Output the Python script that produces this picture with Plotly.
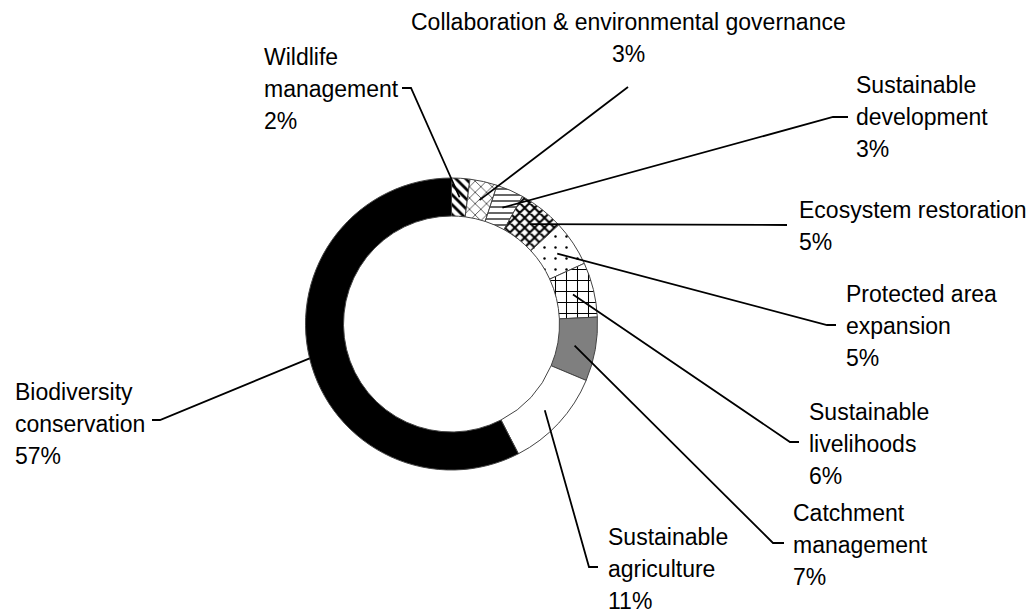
import math
import plotly.graph_objects as go

categories = ["Wildlife management", "Collaboration & environmental governance",
              "Sustainable development", "Ecosystem restoration",
              "Protected area expansion", "Sustainable livelihoods",
              "Catchment management", "Sustainable agriculture",
              "Biodiversity conservation"]
values = [2, 3, 3, 5, 5, 6, 7, 11, 57]
label_lines = [["Wildlife", "management", "2%"],
               ["Collaboration & environmental governance", "3%"],
               ["Sustainable", "development", "3%"],
               ["Ecosystem restoration", "5%"],
               ["Protected area", "expansion", "5%"],
               ["Sustainable", "livelihoods", "6%"],
               ["Catchment", "management", "7%"],
               ["Sustainable", "agriculture", "11%"],
               ["Biodiversity", "conservation", "57%"]]

W, H = 1032, 615
CX, CY, R_OUT, R_IN = 451.5, 324.0, 146.0, 108.0

fill_colors = ["white", "white", "white", "white", "white", "white", "#7f7f7f", "white", "black"]
pat_shapes = ["\\", "x", "-", "x", ".", "+", "", "", ""]
pat_sizes = [7, 8, 6, 7, 11, 11, 8, 8, 8]
pat_solid = [0.4, 0.15, 0.2, 0.5, 0.04, 0.18, 0.3, 0.3, 0.3]

fig = go.Figure(go.Pie(
    labels=categories, values=values, sort=False, direction="clockwise",
    rotation=0, hole=R_IN / R_OUT, textinfo="none", hoverinfo="label+percent",
    showlegend=False,
    marker=dict(colors=fill_colors, line=dict(color="#444444", width=1),
                pattern=dict(shape=pat_shapes, size=pat_sizes, solidity=pat_solid,
                             fgcolor="black", fillmode="replace")),
    domain=dict(x=[(CX - R_OUT) / W, (CX + R_OUT) / W],
                y=[1 - (CY + R_OUT) / H, 1 - (CY - R_OUT) / H]),
))

def px(x):
    return x / W

def py(y):
    return 1 - y / H

label_pos = [(262, 57, "left"), (628, 22, "center"), (854, 85, "left"), (797, 210, "left"),
             (844, 294, "left"), (807, 412, "left"), (791, 513, "left"), (606, 537, "left"),
             (13, 392, "left")]
leader_start = [[(402, 88), (411, 88)], [(628, 87)], [(848, 117), (833, 117)], [(787, 225)],
                [(836, 325), (827, 325)], [(799, 442), (790, 442)], [(784, 543), (773, 543)],
                [(598, 567), (589, 567)], [(152, 420), (160, 420)]]
end_r = [127, 127, 127, 127, 127, 125, 125, 127, R_OUT]
LINE_SP = 32

ann = []
for i, lines in enumerate(label_lines):
    x, y0, anc = label_pos[i]
    for j, t in enumerate(lines):
        ann.append(dict(x=px(x), y=py(y0 + j * LINE_SP), xref="paper", yref="paper",
                        text=t, showarrow=False, xanchor=anc, yanchor="middle",
                        font=dict(family="Liberation Sans, Arial", size=23, color="black")))

total = sum(values)
cum = 0
shapes = []
for i, v in enumerate(values):
    mid = (cum + v / 2) / total * 2 * math.pi
    cum += v
    ex = CX + end_r[i] * math.sin(mid)
    ey = CY - end_r[i] * math.cos(mid)
    pts = leader_start[i] + [(ex, ey)]
    path = "M " + " L ".join(f"{px(a):.5f},{py(b):.5f}" for a, b in pts)
    shapes.append(dict(type="path", path=path, xref="paper", yref="paper",
                       line=dict(color="black", width=1.8)))

fig.update_layout(width=W, height=H, margin=dict(l=0, r=0, t=0, b=0),
                  paper_bgcolor="white", plot_bgcolor="white",
                  annotations=ann, shapes=shapes)
fig.write_html("out.html")
